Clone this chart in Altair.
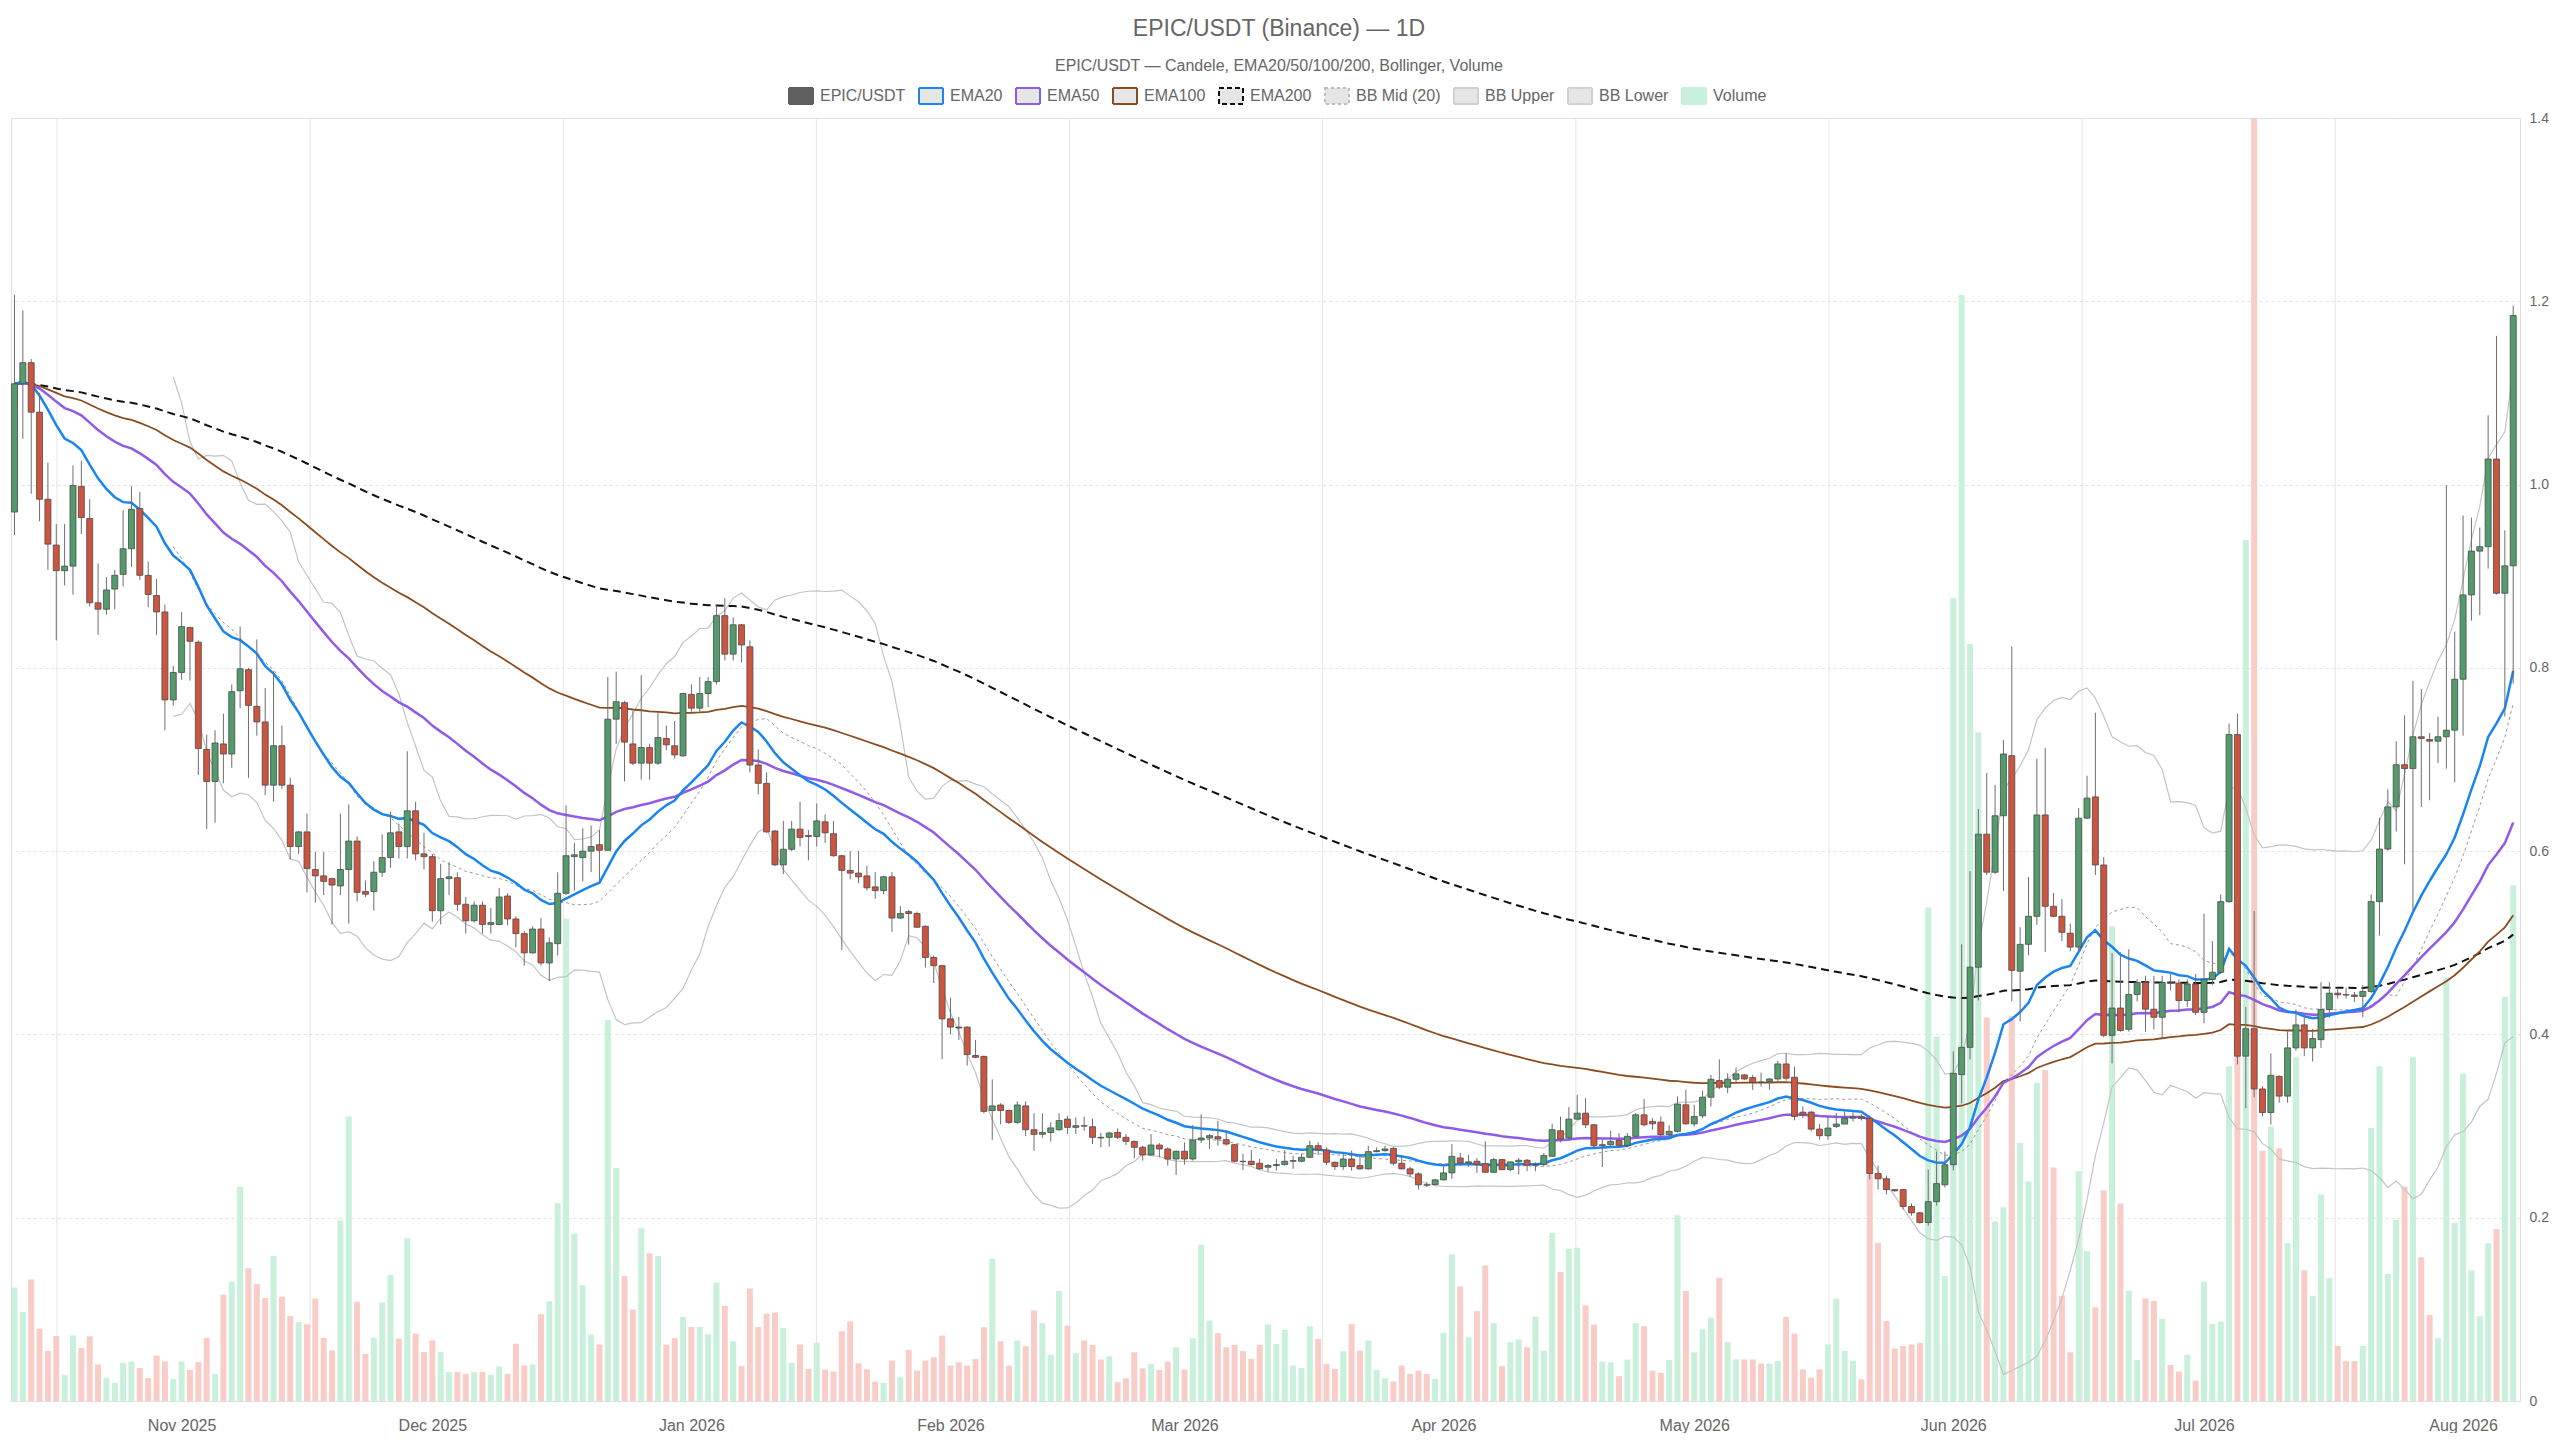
import altair as alt
import pandas as pd

FONT = "Liberation Sans"
TEXT = "#666666"

first_day = "2025-10-12"

opens = [
    .970, 1.110, 1.133, 1.079, .984, .934, .906, .911, .998, .963,
    .871, .864, .886, .902, .930, .974, .901, .879, .861, .765,
    .795, .844, .828, .711, .676, .717, .706, .775, .798, .758,
    .741, .672, .715, .672, .605, .621, .580, .573, .570, .562,
    .580, .611, .556, .556, .577, .593, .621, .605, .644, .597,
    .594, .535, .570, .571, .542, .524, .541, .520, .520, .551,
    .526, .510, .489, .515, .478, .499, .554, .594, .593, .600,
    .607, .601, .744, .762, .717, .696, .713, .696, .723, .715,
    .704, .771, .756, .772, .785, .857, .815, .847, .823, .694,
    .674, .622, .585, .602, .624, .617, .616, .632, .619, .595,
    .579, .576, .573, .561, .557, .572, .527, .534, .532, .518,
    .484, .475, .417, .408, .408, .377, .376, .317, .323, .317,
    .304, .322, .296, .291, .293, .296, .3076, .2986, .3004, .2993,
    .2877, .2877, .2931, .2877, .2833, .2768, .2685, .2793, .2750, .2641,
    .2725, .2641, .2848, .2870, .2884, .2851, .2797, .2616, .2616, .2594,
    .2551, .2569, .2580, .2616, .2616, .2659, .2786, .2739, .2605, .2558,
    .2641, .2569, .2533, .2721, .2732, .2757, .2594, .2533, .2478, .2359,
    .2362, .2413, .2489, .2652, .2598, .2616, .2591, .2496, .2634, .2525,
    .2609, .2627, .2573, .2580, .2670, .2949, .2870, .3076, .3141, .3014,
    .2786, .2797, .2844, .2790, .2888, .3123, .3051, .3043, .2906, .2942,
    .3232, .3025, .3112, .3315, .3496, .3424, .3511, .3558, .3529, .3480,
    .3486, .3514, .3678, .3533, .3152, .3152, .2967, .2895, .2996, .3022,
    .3087, .3100, .3085, .2482, .2425, .2307, .2307, .2123, .2053, .1948,
    .2175, .2359, .2578, .3562, .3859, .4734, .6185, .5770, .6386, .7042,
    .4690, .4983, .5289, .6395, .5398, .5289, .5105, .4953, .6360, .6592,
    .5849, .3990, .4288, .4056, .4436, .4567, .4275, .4187, .4567, .4560,
    .4370, .4550, .4241, .4600, .4678, .5449, .7272, .3763, .4062, .3405,
    .3148, .3542, .3327, .3853, .4104, .3853, .3943, .4271, .4450, .4433,
    .4430, .4415, .4469, .5449, .6023, .6483, .6943, .6901, .7248, .7218,
    .7200, .7248, .7320, .7876, .8796, .9274, .9322, 1.0279, .8814, .9113,
]

closes = [
    1.110, 1.133, 1.079, .984, .935, .906, .911, .999, .964, .871,
    .864, .885, .901, .930, .973, .901, .880, .861, .765, .795,
    .845, .829, .712, .676, .718, .706, .774, .799, .759, .741,
    .672, .715, .672, .605, .621, .581, .573, .567, .563, .580,
    .611, .555, .553, .577, .593, .620, .605, .644, .597, .594,
    .535, .570, .572, .542, .524, .541, .520, .522, .550, .526,
    .510, .489, .515, .478, .500, .554, .595, .596, .600, .605,
    .601, .744, .763, .719, .696, .713, .696, .724, .716, .705,
    .772, .756, .772, .785, .857, .815, .847, .825, .694, .674,
    .621, .585, .602, .624, .615, .616, .633, .620, .595, .579,
    .576, .572, .560, .557, .572, .527, .532, .532, .517, .484,
    .475, .417, .408, .407, .378, .375, .316, .322, .317, .304,
    .323, .296, .291, .293, .298, .306, .2986, .3004, .3000, .2877,
    .2870, .2924, .2877, .2833, .2768, .2685, .2793, .2750, .2641, .2725,
    .2641, .2848, .2870, .2895, .2859, .2804, .2616, .2612, .2580, .2533,
    .2569, .2580, .2616, .2623, .2659, .2786, .2739, .2605, .2558, .2641,
    .2558, .2533, .2721, .2732, .2750, .2594, .2533, .2478, .2359, .2355,
    .2413, .2489, .2670, .2598, .2609, .2580, .2496, .2634, .2525, .2609,
    .2627, .2573, .2580, .2678, .2960, .2859, .3076, .3141, .3014, .2786,
    .2797, .2833, .2790, .2888, .3123, .3014, .3025, .2906, .2942, .3239,
    .3025, .3105, .3315, .3511, .3424, .3511, .3569, .3514, .3475, .3478,
    .3514, .3678, .3522, .3105, .3123, .2967, .2895, .2978, .3022, .3087,
    .3100, .3085, .2482, .2425, .2307, .2294, .2123, .2053, .1948, .2175,
    .2372, .2578, .3575, .3859, .4734, .6185, .5770, .6386, .7060, .4699,
    .4983, .5289, .6395, .5398, .5289, .5114, .4953, .6360, .6579, .5849,
    .3990, .4288, .4043, .4436, .4567, .4275, .4187, .4567, .4560, .4370,
    .4550, .4241, .4600, .4678, .5449, .7272, .3763, .4062, .3405, .3148,
    .3554, .3327, .3853, .4104, .3853, .3955, .4271, .4450, .4433, .4430,
    .4415, .4469, .5449, .6023, .6483, .6943, .6901, .7248, .7230, .7200,
    .7248, .7320, .7876, .8796, .9274, .9322, 1.0279, .8814, .9113, 1.1845,
]

highs = [
    1.207, 1.190, 1.137, 1.100, 1.024, .957, .957, 1.021, 1.026, .984,
    .914, .899, .907, .972, .998, .992, .916, .897, .869, .802,
    .861, .845, .830, .727, .732, .750, .782, .845, .800, .831,
    .778, .796, .737, .680, .622, .641, .599, .599, .571, .641,
    .651, .616, .568, .589, .618, .643, .630, .709, .654, .620,
    .597, .586, .588, .577, .550, .545, .545, .538, .560, .554,
    .529, .513, .518, .527, .506, .577, .650, .609, .625, .628,
    .623, .790, .796, .764, .753, .792, .717, .751, .737, .742,
    .773, .782, .790, .790, .868, .876, .855, .848, .830, .711,
    .686, .623, .633, .633, .654, .623, .652, .640, .633, .596,
    .600, .600, .584, .577, .573, .577, .540, .536, .534, .519,
    .486, .476, .440, .419, .409, .394, .377, .351, .325, .318,
    .327, .327, .314, .314, .304, .314, .3112, .3094, .3105, .3083,
    .2924, .2938, .2975, .2913, .2841, .2786, .2913, .2815, .2768, .2732,
    .2822, .3011, .3130, .2913, .3058, .2949, .2804, .2696, .2739, .2641,
    .2587, .2641, .2739, .2678, .2696, .2841, .2822, .2768, .2612, .2696,
    .2732, .2696, .2786, .2768, .2786, .2768, .2678, .2558, .2496, .2388,
    .2424, .2587, .2804, .2707, .2688, .2652, .2833, .2652, .2641, .2616,
    .2652, .2641, .2605, .2707, .3025, .3105, .3207, .3341, .3304, .3025,
    .2851, .2949, .2924, .2924, .3141, .3297, .3087, .3105, .3010, .3322,
    .3395, .3232, .3388, .3558, .3728, .3576, .3638, .3569, .3558, .3584,
    .3522, .3714, .3793, .3649, .3214, .3167, .3025, .3105, .3141, .3159,
    .3150, .3130, .3116, .2569, .2460, .2310, .2310, .2154, .2066, .2525,
    .2722, .2722, .3815, .4983, .5783, .6461, .6854, .6723, .7213, .8232,
    .5171, .5717, .7007, .7125, .5542, .5477, .5210, .6470, .6824, .7510,
    .5936, .4887, .4896, .4930, .4602, .4640, .4640, .4640, .4660, .4600,
    .4600, .4660, .5317, .5018, .5527, .7391, .7499, .4301, .5347, .3435,
    .3793, .3554, .4032, .4271, .4211, .4062, .4570, .4570, .4510, .4510,
    .4463, .4540, .5527, .6364, .6674, .7200, .7481, .7858, .7768, .7290,
    .7469, .9992, .8396, .9663, .9639, .9531, 1.0757, 1.1623, .9501, 1.1952,
]

lows = [
    .945, 1.050, .990, .960, .907, .830, .890, .880, .946, .867,
    .836, .858, .864, .889, .910, .896, .866, .836, .732, .759,
    .787, .786, .683, .624, .631, .674, .691, .756, .680, .726,
    .661, .654, .668, .591, .597, .555, .544, .552, .520, .552,
    .521, .545, .550, .535, .572, .582, .592, .592, .590, .580,
    .523, .520, .552, .535, .510, .522, .510, .510, .519, .519,
    .495, .475, .488, .475, .458, .486, .552, .557, .567, .577,
    .567, .600, .717, .676, .694, .678, .678, .694, .710, .701,
    .703, .752, .752, .757, .782, .808, .808, .806, .686, .662,
    .620, .584, .575, .600, .605, .590, .605, .609, .594, .492,
    .569, .565, .557, .548, .553, .512, .526, .498, .516, .473,
    .456, .373, .400, .394, .366, .374, .314, .285, .302, .302,
    .302, .289, .273, .287, .283, .295, .2913, .2913, .2949, .2804,
    .2768, .2775, .2859, .2793, .2649, .2623, .2678, .2659, .2569, .2467,
    .2580, .2623, .2815, .2750, .2786, .2786, .2605, .2522, .2569, .2525,
    .2504, .2514, .2569, .2533, .2605, .2649, .2685, .2576, .2522, .2522,
    .2514, .2525, .2525, .2714, .2721, .2569, .2525, .2442, .2308, .2333,
    .2351, .2406, .2424, .2562, .2554, .2489, .2489, .2489, .2518, .2507,
    .2471, .2507, .2507, .2562, .2670, .2822, .2841, .3069, .2978, .2765,
    .2554, .2779, .2768, .2768, .2880, .2996, .2960, .2880, .2888, .2931,
    .3014, .2996, .3087, .3214, .3402, .3359, .3467, .3504, .3395, .3431,
    .3395, .3493, .3496, .3062, .3087, .2942, .2851, .2851, .2978, .3033,
    .3050, .3060, .2416, .2307, .2254, .2285, .2088, .2022, .1935, .1913,
    .2132, .2329, .2516, .3247, .3728, .4371, .5740, .5752, .5565, .4362,
    .4143, .4865, .5193, .4900, .5280, .5018, .4909, .4920, .6350, .5740,
    .3968, .3684, .4030, .4030, .4362, .4030, .4056, .3968, .4480, .4241,
    .4300, .4211, .4122, .4540, .4660, .5437, .3674, .3195, .3315, .3106,
    .3016, .3255, .3255, .3823, .3763, .3704, .3853, .4182, .4391, .4391,
    .4355, .4188, .4451, .5078, .6005, .6214, .5856, .5347, .6483, .6555,
    .6961, .6900, .6752, .7260, .8515, .8575, .9083, .8800, .7469, .7828,
]

volumes = [
    8.85, 6.95, 9.48, 5.64, 3.89, 5.07, 2.04, 5.12, 4.13, 5.04,
    2.85, 1.78, 1.41, 2.98, 3.08, 2.58, 1.78, 3.55, 3.08, 1.72,
    3.08, 2.43, 3.03, 4.91, 2.11, 8.30, 9.29, 16.7, 10.34, 9.11,
    8.04, 11.3, 8.12, 6.63, 6.16, 5.98, 7.99, 4.93, 3.94, 14.07,
    22.17, 7.73, 3.68, 4.91, 7.68, 9.82, 4.86, 12.69, 5.25, 3.81,
    4.73, 3.81, 2.25, 2.25, 2.11, 2.25, 2.25, 2.04, 2.69, 2.11,
    4.46, 2.77, 2.85, 6.76, 7.78, 15.43, 37.6, 13.03, 9.03, 5.20,
    4.41, 29.7, 18.17, 9.74, 7.13, 13.47, 11.51, 11.3, 4.39, 4.91,
    6.55, 5.77, 5.77, 5.20, 9.24, 7.42, 4.65, 2.72, 8.77, 5.77,
    6.81, 6.89, 5.69, 2.98, 4.41, 2.51, 4.54, 2.45, 2.30, 5.43,
    6.21, 2.94, 2.47, 1.51, 1.41, 3.15, 1.85, 3.98, 2.37, 3.15,
    3.41, 5.10, 2.76, 3.02, 2.76, 3.28, 5.75, 11.09, 4.66, 2.76,
    4.71, 4.27, 7.06, 6.07, 3.62, 8.57, 5.88, 3.72, 4.71, 4.37,
    3.23, 3.49, 1.46, 1.77, 3.80, 2.55, 2.89, 2.42, 3.07, 4.19,
    2.45, 4.89, 12.18, 6.27, 5.29, 4.19, 4.37, 3.88, 3.28, 4.37,
    5.96, 4.45, 5.55, 2.76, 2.58, 5.83, 4.84, 2.89, 2.50, 3.88,
    6.01, 3.93, 4.71, 2.42, 1.77, 1.51, 2.76, 2.11, 2.37, 2.11,
    1.72, 5.31, 11.43, 8.93, 4.97, 7.00, 10.57, 6.07, 2.71, 4.58,
    4.79, 4.19, 6.59, 3.93, 13.1, 10.05, 11.87, 11.95, 7.45, 5.96,
    3.07, 3.02, 1.93, 3.23, 6.07, 5.83, 2.37, 2.19, 3.20, 14.48,
    8.57, 3.80, 5.58, 6.49, 9.60, 4.60, 3.24, 3.24, 3.24, 2.92,
    2.92, 3.11, 6.55, 5.25, 2.47, 1.82, 2.47, 4.41, 7.98, 3.89,
    3.11, 1.69, 17.71, 12.33, 6.23, 4.09, 4.28, 4.41, 4.54, 38.47,
    28.41, 9.73, 62.6, 86.2, 59.0, 52.1, 29.9, 14.0, 15.1, 30.0,
    20.1, 17.1, 24.8, 25.8, 18.2, 8.2, 3.8, 17.9, 11.7, 7.3,
    16.4, 37.0, 15.4, 8.6, 3.2, 8.0, 7.8, 6.4, 2.8, 2.3,
    3.6, 1.6, 9.3, 6.0, 6.2, 26.1, 28.0, 67.1, 100.0, 19.5,
    21.4, 19.7, 12.3, 26.8, 10.2, 8.2, 16.1, 9.6, 4.3, 3.1,
    3.1, 4.3, 21.3, 26.1, 9.9, 14.1, 16.7, 26.8, 11.2, 6.7,
    4.9, 33.0, 13.9, 25.5, 10.2, 6.6, 12.3, 13.4, 31.5, 40.2,
]

month_ticks = ["2025-11-01", "2025-12-01", "2026-01-01", "2026-02-01", "2026-03-01",
               "2026-04-01", "2026-05-01", "2026-06-01", "2026-07-01", "2026-08-01"]
grid_marks = ["2025-10-17T02:00:00Z", "2025-11-16T09:00:00Z", "2025-12-16T16:00:00Z",
              "2026-01-15T23:00:00Z", "2026-02-15T06:00:00Z", "2026-03-17T13:00:00Z",
              "2026-04-16T20:00:00Z", "2026-05-17T03:00:00Z", "2026-06-16T10:00:00Z",
              "2026-07-16T17:00:00Z"]
x_domain = ["2025-10-11T14:00:00Z", "2026-08-07T19:30:00Z"]
price_ticks = [0, 0.2, 0.4, 0.6, 0.8, 1.0, 1.2, 1.4]

series = ["EPIC/USDT", "EMA20", "EMA50", "EMA100", "EMA200",
          "BB Mid (20)", "BB Upper", "BB Lower", "Volume"]

UP, DOWN = "#549b6c", "#cd5540"
VOL_UP, VOL_DOWN = "#c9f0da", "#f8cdc7"
C20, C50, C100, C200 = "#1a84f0", "#8f5be8", "#8b4c1f", "#111111"
BB_C, BB_MID_C = "#c4c4c4", "#9a9a9a"

leg_fill = ["#5f5f5f", "#e6e6e6", "#e6e6e6", "#e6e6e6", "#e6e6e6",
            "#e6e6e6", "#e6e6e6", "#e6e6e6", VOL_UP]
leg_stroke = ["#5f5f5f", C20, C50, C100, C200, "#bdbdbd", "#d0d0d0", "#d0d0d0", VOL_UP]
leg_dash = [[1, 0], [1, 0], [1, 0], [1, 0], [5, 3], [3, 3], [1, 0], [1, 0], [1, 0]]


def ms(s):
    return int(pd.Timestamp(s).value // 10**6)


dates = pd.date_range(first_day, periods=len(closes), freq="D").strftime("%Y-%m-%d").tolist()
c = pd.Series(closes)
mid = c.rolling(20).mean()
sd = c.rolling(20).std(ddof=0)

df = pd.DataFrame({
    "date": dates, "open": opens, "high": highs, "low": lows, "close": closes,
    "volume": volumes,
    "ema20": c.ewm(span=20, adjust=False).mean(),
    "ema50": c.ewm(span=50, adjust=False).mean(),
    "ema100": c.ewm(span=100, adjust=False).mean(),
    "ema200": c.ewm(span=200, adjust=False).mean(),
    "bb_mid": mid, "bb_up": mid + 2 * sd, "bb_lo": mid - 2 * sd,
})

xscale = alt.Scale(type="utc", domain=[ms(d) for d in x_domain], nice=False, padding=0)
xaxis = alt.Axis(values=[ms(d) for d in month_ticks],
                 labelExpr="utcFormat(datum.value, '%b %Y')",
                 labelFont=FONT, labelFontSize=16, labelColor=TEXT, labelPadding=16,
                 ticks=False, domain=False, grid=False, title=None, labelOverlap=False)
X = alt.X("date:T", scale=xscale, axis=xaxis, title=None)

yscale = alt.Scale(domain=[0, 1.4], nice=False, zero=False, padding=0)
yaxis = alt.Axis(orient="right", values=price_ticks,
                 labelExpr="datum.value == 0 ? '0' : format(datum.value, '.1f')",
                 labelFont=FONT, labelFontSize=14, labelColor=TEXT, labelPadding=9,
                 grid=True, gridColor="#e2e2e2", gridDash=[3, 3], gridWidth=1,
                 domain=False, ticks=False, title=None)


def Y(field):
    return alt.Y(f"{field}:Q", scale=yscale, axis=yaxis, title=None)


base = alt.Chart(df)
is_up = alt.datum.close >= alt.datum.open

grid = alt.Chart(pd.DataFrame({"date": grid_marks})).mark_rule(
    color="#e6e6e6", strokeWidth=1).encode(x=X)

vol = base.mark_bar(size=6).encode(
    x=X,
    y=alt.Y("volume:Q", scale=alt.Scale(domain=[0, max(volumes)], nice=False, zero=True, padding=0),
            axis=alt.Axis(orient="left", labels=False, ticks=False, grid=False, domain=True,
                          domainColor="#e2e2e2", title=None)),
    color=alt.when(is_up).then(alt.value(VOL_UP)).otherwise(alt.value(VOL_DOWN)),
)

bb_lo = base.mark_line(color=BB_C, strokeWidth=1.2).encode(x=X, y=Y("bb_lo"))
bb_up = base.mark_line(color=BB_C, strokeWidth=1.2).encode(x=X, y=Y("bb_up"))
bb_mid = base.mark_line(color=BB_MID_C, strokeWidth=1, strokeDash=[3, 3]).encode(x=X, y=Y("bb_mid"))
e200 = base.mark_line(color=C200, strokeWidth=2, strokeDash=[8, 5]).encode(x=X, y=Y("ema200"))
e100 = base.mark_line(color=C100, strokeWidth=1.8).encode(x=X, y=Y("ema100"))
e50 = base.mark_line(color=C50, strokeWidth=2.5).encode(x=X, y=Y("ema50"))
e20 = base.mark_line(color=C20, strokeWidth=2.5).encode(x=X, y=Y("ema20"))

wicks = base.mark_rule(color="#6e6e6e", strokeWidth=1).encode(x=X, y=Y("low"), y2="high:Q")
bodies = base.mark_bar(size=6, stroke="#4a4a4a", strokeWidth=0.8).encode(
    x=X, y=Y("open"), y2="close:Q",
    color=alt.when(is_up).then(alt.value(UP)).otherwise(alt.value(DOWN)),
)

leg = alt.Legend(title=None, orient="none", legendX=781, legendY=-31, direction="horizontal",
                 columns=len(series), columnPadding=9, labelOffset=10,
                 labelFont=FONT, labelFontSize=16, labelColor=TEXT,
                 symbolSize=256, symbolStrokeWidth=2, symbolOpacity=1,
                 symbolType="M-1.5,-1H1.5V1H-1.5Z")
legend_layer = alt.Chart(alt.Data(values=[])).mark_point(
    shape="M-1.5,-1H1.5V1H-1.5Z", filled=True, size=256, opacity=1).encode(
    fill=alt.Fill("series:N", scale=alt.Scale(domain=series, range=leg_fill), legend=leg),
    stroke=alt.Stroke("series:N", scale=alt.Scale(domain=series, range=leg_stroke), legend=leg),
    strokeDash=alt.StrokeDash("series:N", scale=alt.Scale(domain=series, range=leg_dash), legend=leg),
)

price = alt.layer(bb_lo, bb_up, bb_mid, e200, e100, e50, e20, wicks, bodies, legend_layer)

chart = alt.layer(grid, vol, price).resolve_scale(y="independent").properties(
    width=2509, height=1283,
    padding={"left": 1, "right": 0, "top": 10, "bottom": 0},
    title=alt.TitleParams(
        text="EPIC/USDT (Binance) — 1D",
        subtitle="EPIC/USDT — Candele, EMA20/50/100/200, Bollinger, Volume",
        font=FONT, fontSize=23, fontWeight="normal", color=TEXT,
        subtitleFont=FONT, subtitleFontSize=16, subtitleColor=TEXT,
        subtitlePadding=17, anchor="middle", frame="bounds", offset=13),
).configure_view(stroke=None).configure(font=FONT)

chart.save("out.html", embed_options={"renderer": "svg", "actions": False})
